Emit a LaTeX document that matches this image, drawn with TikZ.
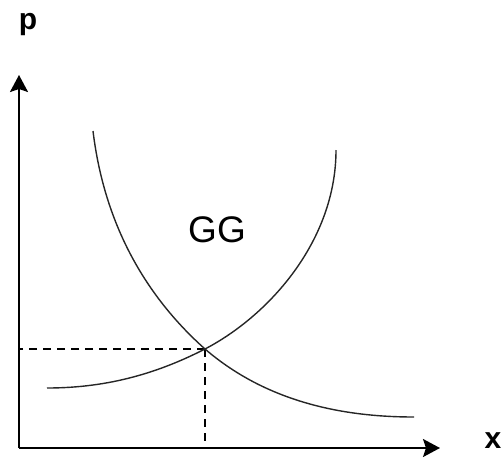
\documentclass[tikz,border=0pt]{standalone}
\usepackage{fontspec}
\setmainfont{Liberation Sans}
\usetikzlibrary{arrows.meta}
\begin{document}
\begin{tikzpicture}[
    x=1pt, y=-1pt,
    axis/.style={line width=2pt, -{Stealth[length=17pt, width=18pt, inset=3pt]}},
    curve/.style={line width=1.4pt, black!85},
    guide/.style={line width=1.4pt, dash pattern=on 8pt off 6pt},
    axislabel/.style={font=\fontsize{30}{34}\selectfont\bfseries, inner sep=0pt}
]
    \useasboundingbox (0,0) rectangle (504,459);

    % Axes
    \coordinate (origin) at (19,448);
    \coordinate (ytop) at (19,75);
    \coordinate (xend) at (440,448);
    \draw[axis] (origin) -- (ytop);
    \draw[axis] (origin) -- (xend);
    \node[axislabel, anchor=base] (plabel) at (28,29) {p};
    \node[axislabel, anchor=base] (xlabel) at (493,448) {x};

    % Equilibrium point
    \coordinate (eq) at (205,349);

    % Dashed guides to the axes
    \draw[guide] (eq) -- (eq -| origin);
    \draw[guide] (eq) -- (eq |- origin);

    % Falling curve
    \draw[curve] (93,131) .. controls (105,230) and (150,300) .. (eq)
        .. controls (270,405) and (350,417) .. (414,417);

    % Rising curve
    \draw[curve] (47,388) .. controls (110,388) and (160,372) .. (eq)
        .. controls (270,315) and (336,240) .. (336,150);

    % Label
    \node[font=\fontsize{37}{40}\selectfont, inner sep=0pt] (gg) at (217,230) {GG};

\end{tikzpicture}
\end{document}
